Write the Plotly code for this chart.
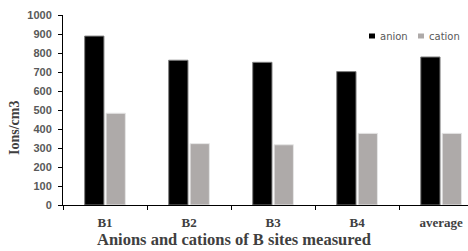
import plotly.graph_objects as go

categories = ["B1", "B2", "B3", "B4", "average"]
anion = [889, 762, 751, 702, 779]
cation = [483, 323, 317, 377, 377]
y_ticks = [0, 100, 200, 300, 400, 500, 600, 700, 800, 900, 1000]
series_names = ["anion", "cation"]
series_colors = ["#000000", "#aeaaa9"]

# plot area geometry (pixels)
L, T, B = 63, 15, 46
W, H = 468, 251
PW, PH = W - L, H - T - B


def px(x):
    return (x - L) / PW


def py(y):
    return (H - B - y) / PH


fig = go.Figure()
fig.add_trace(go.Bar(x=categories, y=anion, name=series_names[0],
                     marker=dict(color=series_colors[0], line=dict(color="#7f7f7f", width=1))))
fig.add_trace(go.Bar(x=categories, y=cation, name=series_names[1],
                     marker=dict(color=series_colors[1], line=dict(color="#e6e6e6", width=1))))

# legend drawn as keys + text
legend_items = [(369, 378), (418, 427)]
shapes = []
annotations = []
for (sx, tx), name, col in zip(legend_items, series_names, series_colors):
    shapes.append(dict(type="rect", xref="paper", yref="paper",
                       x0=px(sx), x1=px(sx + 6), y0=py(38.5), y1=py(33.5),
                       fillcolor=col, line=dict(width=0)))
    annotations.append(dict(text=name, xref="paper", yref="paper", x=px(tx), y=py(36),
                            xanchor="left", yanchor="middle", showarrow=False,
                            font=dict(family="DejaVu Sans", size=10, color="#595959")))

annotations += [
    dict(text="Anions and cations of B sites measured", xref="paper", yref="paper",
         x=px(234), y=py(239), xanchor="center", yanchor="middle", showarrow=False,
         font=dict(family="Liberation Serif", size=16.5, color="#404040", weight="bold")),
    dict(text="Ions/cm3", xref="paper", yref="paper", x=px(14), y=py(128),
         xanchor="center", yanchor="middle", textangle=-90, showarrow=False,
         font=dict(family="Liberation Serif", size=14, color="#404040", weight="bold")),
]

fig.update_layout(
    width=W, height=H,
    margin=dict(l=L, r=0, t=T, b=B, pad=0),
    paper_bgcolor="white", plot_bgcolor="white",
    barmode="group", bargap=0.49, bargroupgap=0.1,
    showlegend=False,
    xaxis=dict(range=[-0.5, 4.32], showline=True, linecolor="#000000", linewidth=1,
               ticks="outside", tickson="boundaries", ticklen=4, tickcolor="#000000",
               ticklabelstandoff=5,
               tickfont=dict(family="Liberation Serif", size=13, color="#404040", weight="bold"),
               showgrid=False, zeroline=False),
    yaxis=dict(range=[0, 1000], tickvals=y_ticks, showline=True, linecolor="#000000", linewidth=1,
               ticks="outside", ticklen=4, tickcolor="#000000", ticklabelstandoff=4,
               tickfont=dict(family="Liberation Sans", size=11, color="#595959", weight="bold"),
               showgrid=False, zeroline=False),
    shapes=shapes,
    annotations=annotations,
)

fig.write_html("out.html", config={"displayModeBar": False},
               post_script="document.body.style.margin='0';")
